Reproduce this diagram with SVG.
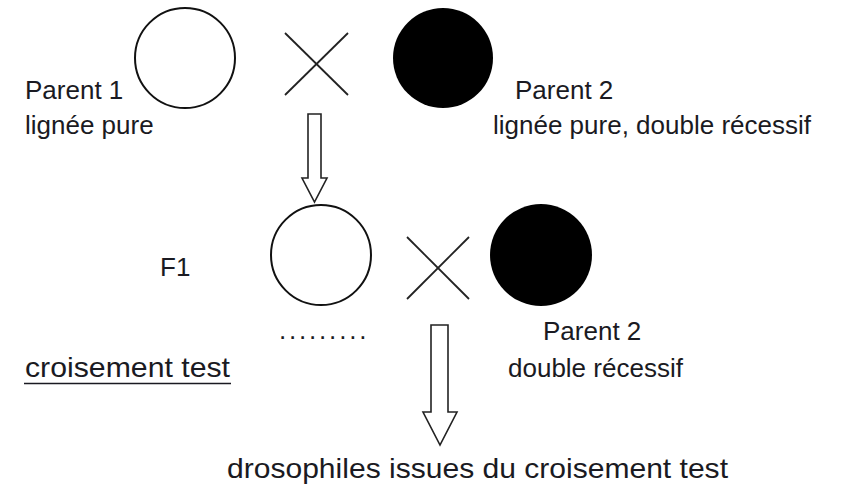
<svg xmlns="http://www.w3.org/2000/svg" width="845" height="486" viewBox="0 0 845 486">
<style>
  .t { font-family: "Liberation Sans", Arial, sans-serif; font-size: 26px; fill: #1a1a22; }
  .big { font-size: 28px; }
  .open { fill: #fff; stroke: #111; stroke-width: 2; }
  .full { fill: #000; }
  .x { stroke: #222; stroke-width: 1.8; fill: none; }
  .arrow { fill: #fff; stroke: #222; stroke-width: 1.6; stroke-linejoin: miter; }
</style>
<rect width="845" height="486" fill="#fff"/>
<g id="parent1">
  <circle class="open" cx="185" cy="58" r="50"/>
  <text class="t" x="25" y="99">Parent 1</text>
  <text class="t" x="25" y="134">lignée pure</text>
</g>
<g id="cross1">
  <line class="x" x1="285" y1="33" x2="348" y2="95"/>
  <line class="x" x1="348" y1="33" x2="285" y2="95"/>
</g>
<g id="parent2-top">
  <circle class="full" cx="443" cy="58" r="50"/>
  <text class="t" x="515" y="99">Parent 2</text>
  <text class="t" x="493" y="134">lignée pure, double récessif</text>
</g>
<g id="f1">
  <circle class="open" cx="321" cy="255" r="50"/>
  <text class="t" x="160" y="276">F1</text>
  <text class="t" x="279" y="339" letter-spacing="2.8">.........</text>
</g>
<g id="cross2">
  <line class="x" x1="407" y1="237" x2="469" y2="299"/>
  <line class="x" x1="469" y1="237" x2="407" y2="299"/>
</g>
<g id="parent2-bottom">
  <circle class="full" cx="541" cy="255" r="51"/>
  <text class="t" x="543" y="340">Parent 2</text>
  <text class="t" x="508" y="377">double récessif</text>
</g>
<g id="croisement-test">
  <text class="t big" x="25" y="377" textLength="205" lengthAdjust="spacingAndGlyphs">croisement test</text>
  <line x1="24" y1="383.5" x2="231" y2="383.5" stroke="#1a1a22" stroke-width="1.6"/>
</g>
<g id="offspring">
  <text class="t big" x="227" y="478" textLength="501" lengthAdjust="spacingAndGlyphs">drosophiles issues du croisement test</text>
</g>
<g id="connectors">
  <path class="arrow" d="M308,114 H321 V178 H327 L314.5,202 L302,178 H308 Z"/>
  <path class="arrow" d="M431,325 H448 V412 H457 L440,445 L423,412 H431 Z"/>
</g>
</svg>
